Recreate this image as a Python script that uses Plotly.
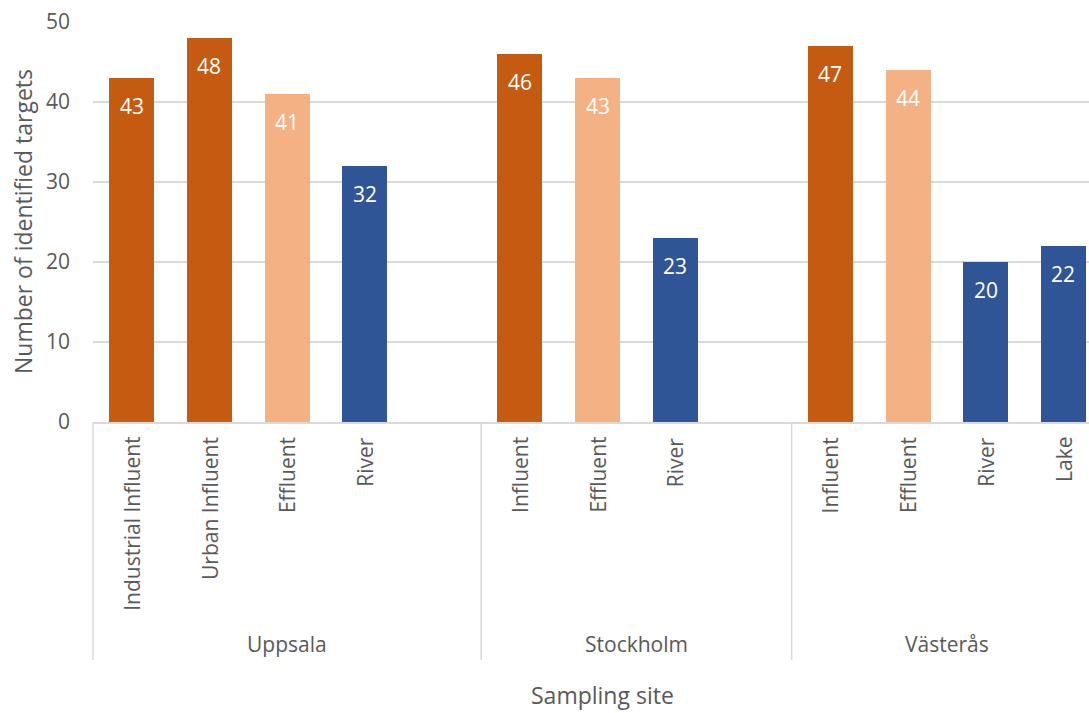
import plotly.graph_objects as go

# ---- data ----
sites = ["Uppsala", "Stockholm", "Västerås"]
site_slots = [5, 4, 4]  # number of category slots per site on the axis
uppsala_cats = ["Industrial Influent", "Urban Influent", "Effluent", "River"]
uppsala_vals = [43, 48, 41, 32]
stockholm_cats = ["Influent", "Effluent", "River"]
stockholm_vals = [46, 43, 23]
vasteras_cats = ["Influent", "Effluent", "River", "Lake"]
vasteras_vals = [47, 44, 20, 22]
y_ticks = [0, 10, 20, 30, 40, 50]

type_colors = {"Influent": "#C55A11", "Effluent": "#F4B183", "River": "#2F5597", "Lake": "#2F5597"}

def color_for(cat):
    if "Influent" in cat:
        return type_colors["Influent"]
    return type_colors[cat]

groups = [(uppsala_cats, uppsala_vals), (stockholm_cats, stockholm_vals), (vasteras_cats, vasteras_vals)]

xs, ys, cats, cols = [], [], [], []
group_start = []
start = 0
for (c, v), n in zip(groups, site_slots):
    group_start.append(start)
    for i, (cc, vv) in enumerate(zip(c, v)):
        xs.append(start + i)
        ys.append(vv)
        cats.append(cc)
        cols.append(color_for(cc))
    start += n

FONT = "Open Sans"
GREY = "#595959"
LINE = "#D9D9D9"
LBL = 21
TTL = 23

x_min, x_max = -0.5, 12.33
plot_h = 400.0

fig = go.Figure()
fig.add_trace(go.Bar(x=xs, y=ys, marker=dict(color=cols, line=dict(width=0)),
                     width=0.58, hoverinfo="x+y", showlegend=False))

annotations = []
# data labels (inside end)
for x, y in zip(xs, ys):
    annotations.append(dict(x=x, y=y, xref="x", yref="y", text=str(y), showarrow=False,
                            yanchor="middle", xanchor="center", yshift=-28,
                            font=dict(family=FONT, size=LBL, color="white")))
# category labels (rotated)
for x, c in zip(xs, cats):
    annotations.append(dict(x=x, y=0, xref="x", yref="paper", text=c, showarrow=False,
                            textangle=-90, xanchor="center", yanchor="top", yshift=-13,
                            font=dict(family=FONT, size=LBL, color=GREY)))
# site labels
for s, st, n in zip(sites, group_start, site_slots):
    annotations.append(dict(x=st - 0.5 + n / 2, y=0, xref="x", yref="paper", text=s, showarrow=False,
                            xanchor="center", yanchor="middle", yshift=-222,
                            font=dict(family=FONT, size=LBL, color=GREY)))
# axis titles
annotations.append(dict(x=(602 - 93) / 996, y=0, xref="paper", yref="paper", text="Sampling site",
                        showarrow=False, xanchor="center", yanchor="bottom", yshift=-290,
                        borderpad=0,
                        font=dict(family=FONT, size=TTL, color=GREY)))
annotations.append(dict(x=(23 - 93) / 996, y=0.5, xref="paper", yref="paper",
                        text="Number of identified targets", showarrow=False, textangle=-90,
                        xanchor="center", yanchor="middle",
                        font=dict(family=FONT, size=TTL, color=GREY)))

# separator lines between sites
shapes = []
for st in group_start:
    xb = st - 0.5
    xp = (xb - x_min) / (x_max - x_min)
    shapes.append(dict(type="line", xref="paper", yref="paper", x0=xp, x1=xp, y0=0, y1=-238 / plot_h,
                       line=dict(color=LINE, width=1.5)))

fig.update_layout(
    width=1089, height=713,
    margin=dict(l=93, r=0, t=22, b=291),
    plot_bgcolor="white", paper_bgcolor="white",
    bargap=0,
    xaxis=dict(range=[x_min, x_max], showticklabels=False, showgrid=False, zeroline=False,
               showline=True, linecolor=LINE, linewidth=1.5, ticks=""),
    yaxis=dict(range=[0, 50], tickvals=y_ticks, showgrid=True, gridcolor=LINE, gridwidth=1.5,
               zeroline=False, showline=False, ticks="", ticklabelstandoff=22,
               tickfont=dict(family=FONT, size=LBL, color=GREY)),
    annotations=annotations,
    shapes=shapes,
)

fig.write_html("out.html")
